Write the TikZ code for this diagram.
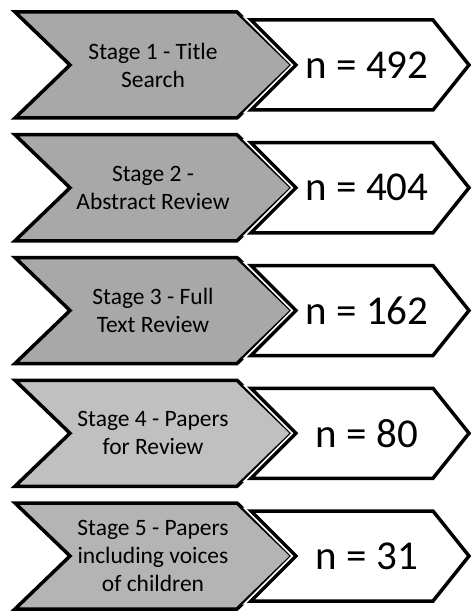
\documentclass[tikz,border=0pt]{standalone}
\usepackage{fontspec}
\setmainfont{Carlito}
\definecolor{greyA}{HTML}{A8A8A8}
\definecolor{greyB}{HTML}{C0C0C0}
\definecolor{greyC}{HTML}{B4B4B4}
\tikzset{
  stagebox/.style={draw=black, line width=3.5pt, line join=miter},
  halo/.style={draw=white, line width=7pt, line join=miter},
  countbox/.style={draw=black, fill=white, line width=3.5pt, line join=miter},
  stagetext/.style={align=center, font=\fontsize{23.5}{28}\selectfont, inner sep=0pt},
  counttext/.style={font=\fontsize{41}{48}\selectfont, inner sep=0pt}
}
\begin{document}
\begin{tikzpicture}[x=1pt,y=-1pt]
\useasboundingbox (0,0) rectangle (473,612);
\foreach \i/\col/\stxt/\ntxt in {
  1/greyA/{Stage 1 - Title\\Search}/{n = 492},
  2/greyA/{Stage 2 -\\Abstract Review}/{n = 404},
  3/greyA/{Stage 3 - Full\\Text Review}/{n = 162},
  4/greyB/{Stage 4 - Papers\\for Review}/{n = 80},
  5/greyC/{Stage 5 - Papers\\including voices\\of children}/{n = 31}} {
  \pgfmathsetmacro{\t}{12+(\i-1)*122.75}
  \pgfmathsetmacro{\m}{\t+53}
  \pgfmathsetmacro{\b}{\t+106}
  \path[stagebox, fill=\col] (15,\t) -- (237,\t) -- (292,\m) -- (237,\b) -- (15,\b) -- (70,\m) -- cycle;
  \path[halo] (251,\m-45) -- (433,\m-45) -- (469,\m) -- (433,\m+45) -- (251,\m+45) -- (296,\m) -- cycle;
  \path[countbox] (251,\m-45) -- (433,\m-45) -- (469,\m) -- (433,\m+45) -- (251,\m+45) -- (296,\m) -- cycle;
  \node[stagetext] (stage\i) at (153,\m) {\stxt};
  \node[counttext] (count\i) at (367,\m) {\ntxt};
}
\end{tikzpicture}
\end{document}
